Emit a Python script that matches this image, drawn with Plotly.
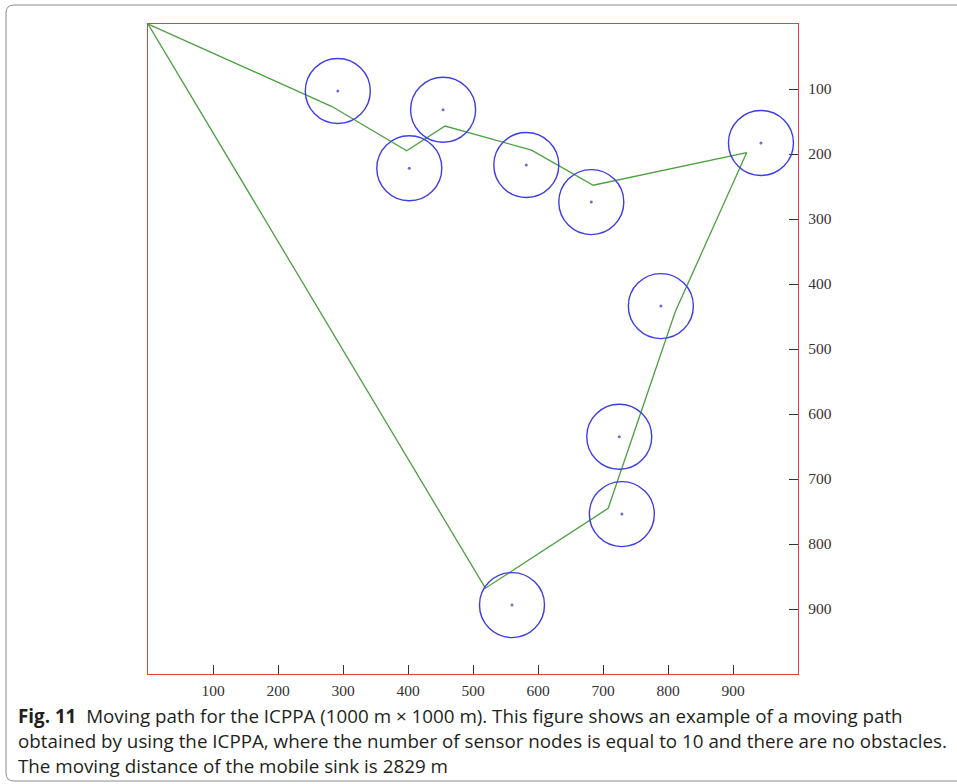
import plotly.graph_objects as go

# Sensor node positions (m)
node_x = [292, 454, 402, 582, 682, 943, 789, 725, 729, 560]
node_y = [103, 132, 222, 217, 274, 183, 434, 635, 754, 894]
node_radius = 50

# Moving path of the mobile sink (m)
path_x = [0, 283, 398, 457, 590, 685, 921, 811, 708, 519, 0]
path_y = [0, 127, 195, 157, 194, 248, 198, 443, 745, 868, 0]

tick_vals = [100, 200, 300, 400, 500, 600, 700, 800, 900]
tick_text = ["100", "200", "300", "400", "500", "600", "700", "800", "900"]

caption_lines = [
    "<b>Fig. 11</b>  Moving path for the ICPPA (1000 m × 1000 m). This figure shows an example of a moving path",
    "obtained by using the ICPPA, where the number of sensor nodes is equal to 10 and there are no obstacles.",
    "The moving distance of the mobile sink is 2829 m",
]

W, H = 957, 784
L, R, T, B = 148, 798, 24, 674  # plot area in pixels

fig = go.Figure()

fig.add_trace(go.Scatter(
    x=path_x, y=path_y, mode="lines",
    line=dict(color="#4ba040", width=1.3),
    hoverinfo="skip", showlegend=False,
))
fig.add_trace(go.Scatter(
    x=node_x, y=node_y, mode="markers",
    marker=dict(color="#6a6ae0", size=3),
    hoverinfo="skip", showlegend=False,
))

for cx, cy in zip(node_x, node_y):
    fig.add_shape(type="circle", xref="x", yref="y",
                  x0=cx - node_radius, x1=cx + node_radius,
                  y0=cy - node_radius, y1=cy + node_radius,
                  line=dict(color="#3d3de6", width=1.4))

# outer rounded frame around figure + caption (paper coords)
def px(xp):
    return (xp - L) / (R - L)

def py(yp):
    return (B - yp) / (B - T)

x0, x1, y0, y1 = px(6), px(975), py(5), py(781)
r = 8 / (R - L)
path = (f"M {x0+r},{y0} L {x1},{y0} M {x0+r},{y0} Q {x0},{y0} {x0},{y0-r} "
        f"L {x0},{y1+r} Q {x0},{y1} {x0+r},{y1} L {x1},{y1}")
fig.add_shape(type="path", xref="paper", yref="paper", path=path,
              line=dict(color="#8a8a8a", width=1), layer="below")

cap_y = [716, 741, 766]
for txt, yy in zip(caption_lines, cap_y):
    fig.add_annotation(text=txt, xref="paper", yref="paper",
                       x=px(16), y=py(yy), xanchor="left", yanchor="middle",
                       showarrow=False,
                       font=dict(family="Open Sans", size=18.8, color="#231f20"))

axis_common = dict(
    showgrid=False, zeroline=False,
    showline=True, linecolor="#e04040", linewidth=1.3, mirror=True,
    ticks="inside", ticklen=9, tickcolor="#333333", tickwidth=1.2,
    tickvals=tick_vals, ticktext=tick_text,
    tickfont=dict(family="Liberation Serif", size=15.5, color="#333333"),
)

fig.update_xaxes(**axis_common)
fig.update_xaxes(range=[0, 1000], side="bottom", ticklabelstandoff=2)
fig.update_yaxes(**axis_common)
fig.update_yaxes(range=[1000, 0], side="right", ticklabelstandoff=6)

fig.update_layout(
    width=W, height=H,
    margin=dict(l=L, r=W - R, t=T, b=H - B, autoexpand=False),
    plot_bgcolor="white", paper_bgcolor="white",
    showlegend=False,
)

fig.write_html("out.html", config={"displayModeBar": False},
               post_script="document.body.style.margin='0px';")
